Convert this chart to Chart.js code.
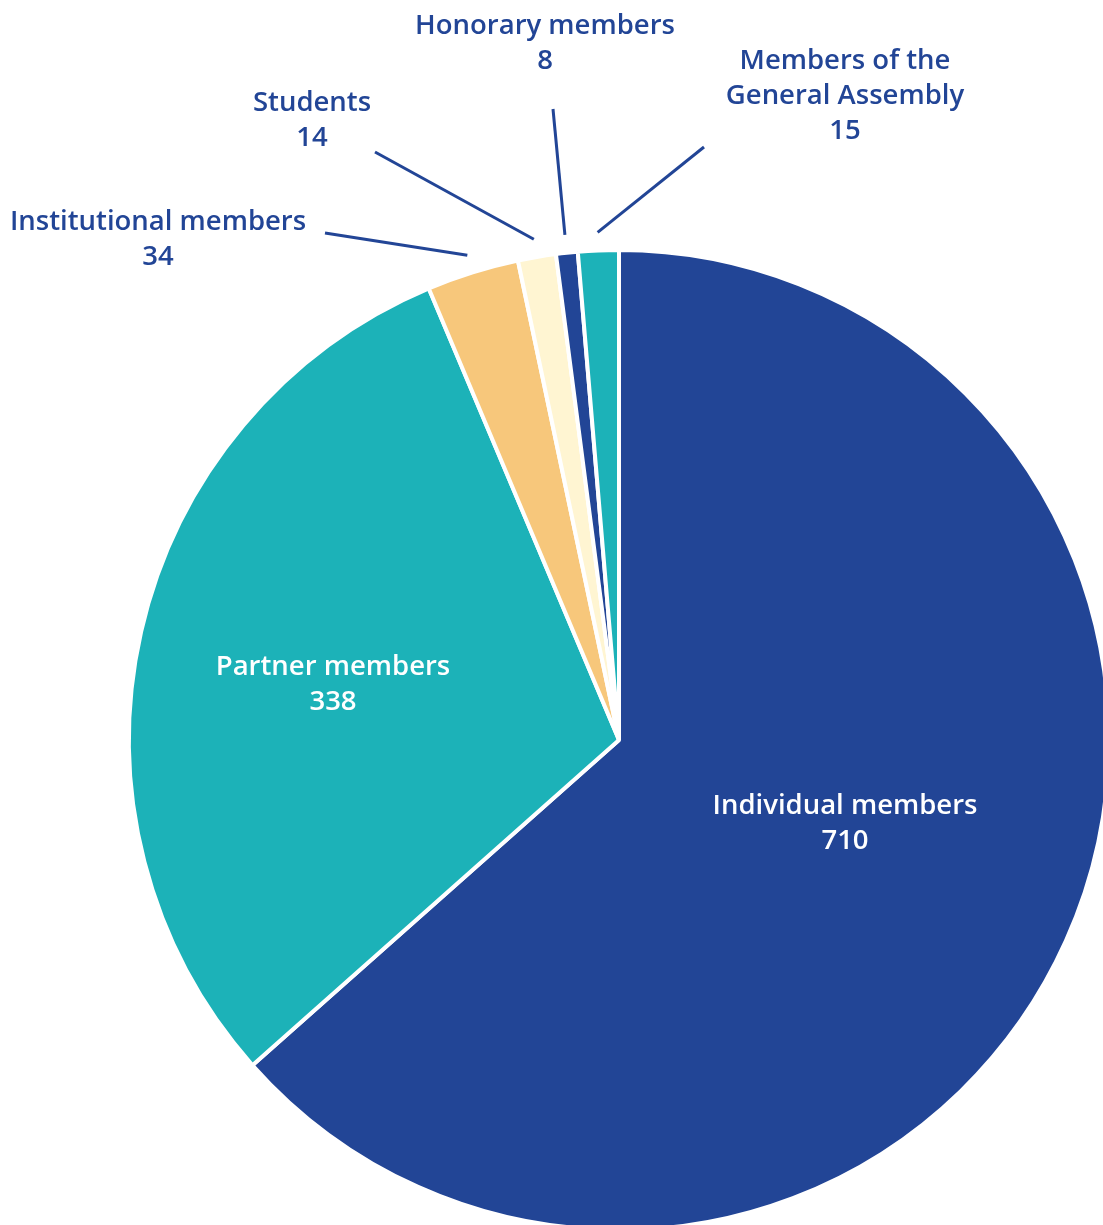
<!DOCTYPE html>
<html>
<head>
<meta charset="utf-8">
<script src="https://cdn.jsdelivr.net/npm/chart.js@4"></script>
<style>
    html, body { margin: 0; padding: 0; overflow: hidden; background: #fff; }
    #wrap { width: 1111px; height: 1240px; }
</style>
</head>
<body>
<div id="wrap"><canvas id="membersChart" width="1111" height="1240"></canvas></div>
<script>
// Data
const categories = [
    ['Individual members'],
    ['Partner members'],
    ['Institutional members'],
    ['Students'],
    ['Honorary members'],
    ['Members of the', 'General Assembly']
];
const memberCounts = [710, 338, 34, 14, 8, 15];

// Styling
const sliceColors = ['#224596', '#1cb2b8', '#f7c77b', '#fff5d2', '#224596', '#1cb2b8'];
const navy = '#224596';

// Label placement, px relative to the pie centre.
// inside: text only; outside: leader line end + text
const labelLayout = [
    { inside: true, tx: 226, ty: 66 },
    { inside: true, tx: -286, ty: -73 },
    { lx: -294, ly: -507, tx: -461, ty: -518 },
    { lx: -244, ly: -588, tx: -307, ty: -637 },
    { lx: -66, ly: -631, tx: -74, ty: -714 },
    { lx: 85, ly: -593, tx: 226, ty: -679 }
];

const labelPlugin = {
    id: 'pieLabels',
    afterDatasetsDraw(chart) {
        const ctx = chart.ctx;
        const meta = chart.getDatasetMeta(0);
        const values = chart.data.datasets[0].data;
        ctx.save();
        ctx.font = '600 27.5px "Open Sans"';
        ctx.textAlign = 'center';
        ctx.textBaseline = 'middle';
        meta.data.forEach((arc, i) => {
            const layout = labelLayout[i];
            const cx = arc.x, cy = arc.y;
            const lines = categories[i].concat([String(values[i])]);
            if (!layout.inside) {
                // leader line from just outside the slice's mid angle
                const mid = (arc.startAngle + arc.endAngle) / 2;
                const r = arc.outerRadius + 18;
                ctx.beginPath();
                ctx.moveTo(cx + Math.cos(mid) * r, cy + Math.sin(mid) * r);
                ctx.lineTo(cx + layout.lx, cy + layout.ly);
                ctx.strokeStyle = navy;
                ctx.lineWidth = 3;
                ctx.stroke();
            }
            ctx.fillStyle = layout.inside ? '#ffffff' : navy;
            lines.forEach((line, j) => {
                ctx.fillText(line, cx + layout.tx, cy + layout.ty + j * 35);
            });
        });
        ctx.restore();
    }
};

const ctx = document.getElementById('membersChart').getContext('2d');
new Chart(ctx, {
    type: 'pie',
    data: {
        labels: categories.map(c => c.join(' ')),
        datasets: [{
            data: memberCounts,
            backgroundColor: sliceColors,
            borderColor: '#ffffff',
            borderWidth: 4,
            hoverOffset: 0
        }]
    },
    options: {
        responsive: false,
        animation: false,
        layout: {
            padding: { left: 127, top: 248, right: 0, bottom: 8 }
        },
        plugins: {
            legend: { display: false },
            tooltip: { enabled: false }
        }
    },
    plugins: [labelPlugin]
});
</script>
</body>
</html>
